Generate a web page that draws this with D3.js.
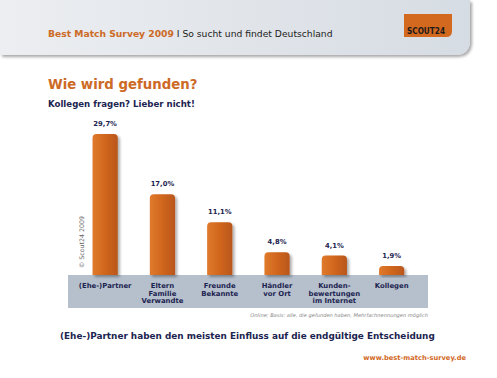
<!DOCTYPE html>
<html><head><meta charset="utf-8">
<script src="https://cdn.jsdelivr.net/npm/d3@7"></script>
<style>
html,body{margin:0;padding:0;background:#fff;}
svg{display:block;font-family:"DejaVu Sans",Verdana,sans-serif;}
</style></head>
<body>
<svg id="c" width="497" height="378"></svg>
<script>
const categories = [
  ["(Ehe-)Partner"],
  ["Eltern","Familie","Verwandte"],
  ["Freunde","Bekannte"],
  ["Händler","vor Ort"],
  ["Kunden-","bewertungen","im Internet"],
  ["Kollegen"]
];
const values = [29.7, 17.0, 11.1, 4.8, 4.1, 1.9];
const valueLabels = ["29,7%","17,0%","11,1%","4,8%","4,1%","1,9%"];

const svg = d3.select("#c");
const navy = "#1c2450";
const defs = svg.append("defs");

const hg = defs.append("linearGradient").attr("id","hdr").attr("x1","0").attr("x2","1").attr("y1","0").attr("y2","0");
hg.append("stop").attr("offset","0").attr("stop-color","#eceef1");
hg.append("stop").attr("offset","1").attr("stop-color","#d6dce3");

const bg = defs.append("linearGradient").attr("id","bar").attr("x1","0").attr("x2","1").attr("y1","0").attr("y2","0");
bg.append("stop").attr("offset","0").attr("stop-color","#e07a2c");
bg.append("stop").attr("offset","0.5").attr("stop-color","#d0661d");
bg.append("stop").attr("offset","1").attr("stop-color","#b9561a");

const sh = defs.append("filter").attr("id","sh").attr("x","-20%").attr("y","-20%").attr("width","150%").attr("height","150%");
sh.append("feGaussianBlur").attr("in","SourceAlpha").attr("stdDeviation","1.5");
sh.append("feOffset").attr("dx","2").attr("dy","2").attr("result","o");
sh.append("feComponentTransfer").append("feFuncA").attr("type","linear").attr("slope","0.35");
const fm = sh.append("feMerge"); fm.append("feMergeNode"); fm.append("feMergeNode").attr("in","SourceGraphic");

// Header panel
svg.append("path").attr("d","M0,0 H470 V40 Q470,55 455,55 H0 Z").attr("fill","url(#hdr)").attr("filter","url(#sh)");
const ht = svg.append("text").attr("x",48).attr("y",37).attr("font-size",9.2);
ht.append("tspan").attr("fill","#cc6a26").attr("font-weight","bold").text("Best Match Survey 2009");
ht.append("tspan").attr("fill","#222").text(" I So sucht und findet Deutschland");
// logo
svg.append("path").attr("d","M404,14 H452 V31 Q452,37 446,37 H404 Z").attr("fill","#d3681f");
svg.append("text").attr("x",407).attr("y",34).attr("font-size",8.5).attr("font-weight","bold")
  .attr("textLength",38).attr("lengthAdjust","spacingAndGlyphs")
  .attr("font-family","'DejaVu Sans Condensed','Liberation Sans Narrow',sans-serif").attr("fill","#1b1b1b").text("SCOUT24");

// Titles
svg.append("text").attr("x",48).attr("y",89).attr("font-size",13.3).attr("font-weight","bold").attr("fill","#cc6a26").text("Wie wird gefunden?");
svg.append("text").attr("x",48).attr("y",107).attr("font-size",8.6).attr("font-weight","bold").attr("fill",navy).text("Kollegen fragen? Lieber nicht!");

// Chart
const base = 275;
const x = d3.scaleBand().domain(d3.range(categories.length)).range([76.5, 420.3]).paddingInner(0.56).paddingOuter(0.28);
const y = d3.scaleLinear().domain([0, 30]).range([base, base - 142.5]);

svg.append("rect").attr("x",68).attr("y",base).attr("width",360).attr("height",33).attr("fill","#b6c0cd");

const r = 4;
svg.append("g").selectAll("path").data(values).join("path")
  .attr("d",(d,i)=>{
    const x0 = x(i), w = x.bandwidth(), t = y(d);
    return `M${x0},${base} V${t+r} Q${x0},${t} ${x0+r},${t} H${x0+w-r} Q${x0+w},${t} ${x0+w},${t+r} V${base} Z`;
  })
  .attr("fill","url(#bar)").attr("filter","url(#sh)");

svg.append("g").selectAll("text").data(values).join("text")
  .attr("x",(d,i)=>x(i)+x.bandwidth()/2).attr("y",d=>y(d)-8)
  .attr("text-anchor","middle").attr("font-size",6.8).attr("font-weight","bold").attr("fill",navy)
  .text((d,i)=>valueLabels[i]);

const cl = svg.append("g").selectAll("text").data(categories).join("text")
  .attr("text-anchor","middle").attr("font-size",6.9).attr("font-weight","bold").attr("fill",navy);
cl.each(function(lines,i){
  d3.select(this).selectAll("tspan").data(lines).join("tspan")
    .attr("x", x(i)+x.bandwidth()/2).attr("y",(l,j)=>288+j*7.6).text(l=>l);
});

svg.append("text").attr("transform","translate(84,268) rotate(-90)").attr("font-size",6.3).attr("fill","#666").text("© Scout24 2009");

svg.append("text").attr("x",428).attr("y",317).attr("text-anchor","end").attr("font-size",5.1).attr("font-style","italic").attr("fill","#888")
  .text("Online; Basis: alle, die gefunden haben, Mehrfachnennungen möglich");

svg.append("text").attr("x",60).attr("y",339).attr("font-size",8.9).attr("font-weight","bold").attr("fill",navy)
  .text("(Ehe-)Partner haben den meisten Einfluss auf die endgültige Entscheidung");

svg.append("text").attr("x",466).attr("y",360).attr("text-anchor","end").attr("font-size",6.7).attr("font-weight","bold").attr("fill","#d2691f")
  .text("www.best-match-survey.de");
</script>
</body></html>
